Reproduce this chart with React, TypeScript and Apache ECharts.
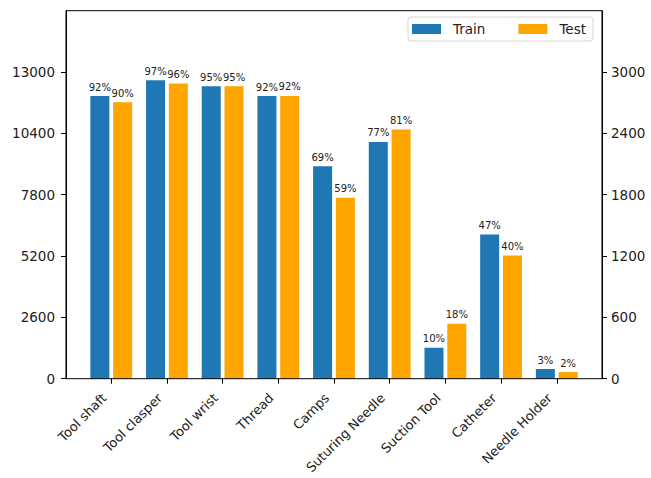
import React, { useEffect, useRef } from "react";
import * as echarts from "echarts";

const categories = [
  "Tool shaft",
  "Tool clasper",
  "Tool wrist",
  "Thread",
  "Camps",
  "Suturing Needle",
  "Suction Tool",
  "Catheter",
  "Needle Holder",
];
const trainValues = [11984, 12649, 12395, 11984, 9007, 10036, 1313, 6115, 411];
const testValues = [2704, 2887, 2860, 2766, 1769, 2437, 537, 1206, 65];
const trainPct = [92, 97, 95, 92, 69, 77, 10, 47, 3];
const testPct = [90, 96, 95, 92, 59, 81, 18, 40, 2];
const leftTicks = [0, 2600, 5200, 7800, 10400, 13000];
const rightTicks = [0, 600, 1200, 1800, 2400, 3000];

const FONT = "DejaVu Sans";

export default function App() {
  const ref = useRef<HTMLDivElement>(null);
  useEffect(() => {
    document.body.style.margin = "0";
    const chart = echarts.init(ref.current!, null, { renderer: "svg" });
    const gridLeft = 83.4;
    const gridRight = 66.4;
    const gridTop = 10.7;
    const gridBottom = 99.3;
    const frameLeft = 66;
    const frameRight = 602;
    chart.setOption({
      animation: false,
      backgroundColor: "#fff",
      textStyle: { fontFamily: FONT },
      grid: {
        left: gridLeft,
        right: gridRight,
        top: gridTop,
        bottom: gridBottom,
        containLabel: false,
        outerBoundsMode: "none",
      },
      legend: {
        data: ["Train", "Test"],
        left: 408,
        top: 17,
        itemWidth: 29,
        itemHeight: 10,
        itemGap: 33,
        padding: [5, 7, 5, 4],
        borderColor: "#d5d5d5",
        borderWidth: 1,
        borderRadius: 3,
        backgroundColor: "#fff",
        icon: "rect",
        textStyle: { fontFamily: FONT, fontSize: 13.5, color: "#222", padding: [0, 0, 0, 7] },
      },
      xAxis: {
        type: "category",
        data: categories,
        axisLine: { show: false },
        axisTick: { show: true, alignWithLabel: true, length: 5, lineStyle: { color: "#000" } },
        axisLabel: {
          rotate: 45,
          interval: 0,
          margin: 10,
          padding: [0, 10, 0, 0],
          fontFamily: FONT,
          fontSize: 13,
          color: "#222",
        },
      },
      yAxis: [
        {
          type: "value",
          min: 0,
          max: 15600,
          interval: 2600,
          offset: gridLeft - frameLeft,
          splitLine: { show: false },
          axisLine: { show: true, lineStyle: { color: "#000" } },
          axisTick: { show: true, length: 5, customValues: leftTicks, lineStyle: { color: "#000" } },
          axisLabel: {
            customValues: leftTicks,
            formatter: (v: number) => String(v),
            margin: 11,
            fontFamily: FONT,
            fontSize: 13.5,
            color: "#222",
          },
        },
        {
          type: "value",
          min: 0,
          max: 3600,
          interval: 600,
          position: "right",
          offset: frameRight - (651 - gridRight),
          splitLine: { show: false },
          axisLine: { show: true, lineStyle: { color: "#000" } },
          axisTick: { show: true, length: 5, customValues: rightTicks, lineStyle: { color: "#000" } },
          axisLabel: {
            customValues: rightTicks,
            formatter: (v: number) => String(v),
            margin: 9,
            fontFamily: FONT,
            fontSize: 13.5,
            color: "#222",
          },
        },
      ],
      graphic: [
        {
          type: "rect",
          shape: { x: frameLeft, y: gridTop, width: frameRight - frameLeft, height: 478 - gridBottom - gridTop },
          style: { fill: "none", stroke: "#000", lineWidth: 1 },
          silent: true,
          z: 10,
        },
      ],
      series: [
        {
          name: "Train",
          type: "bar",
          yAxisIndex: 0,
          data: trainValues,
          barWidth: 19,
          barGap: "20%",
          itemStyle: { color: "#1f77b4" },
          label: {
            show: true,
            position: "top",
            distance: 4,
            fontFamily: FONT,
            fontSize: 10,
            color: "#222",
            formatter: (p: any) => trainPct[p.dataIndex] + "%",
          },
        },
        {
          name: "Test",
          type: "bar",
          yAxisIndex: 1,
          data: testValues,
          barWidth: 19,
          barGap: "20%",
          itemStyle: { color: "#ffa500" },
          label: {
            show: true,
            position: "top",
            distance: 4,
            fontFamily: FONT,
            fontSize: 10,
            color: "#222",
            formatter: (p: any) => testPct[p.dataIndex] + "%",
          },
        },
      ],
    });
    return () => chart.dispose();
  }, []);
  return <div ref={ref} style={{ width: 651, height: 478 }} />;
}
